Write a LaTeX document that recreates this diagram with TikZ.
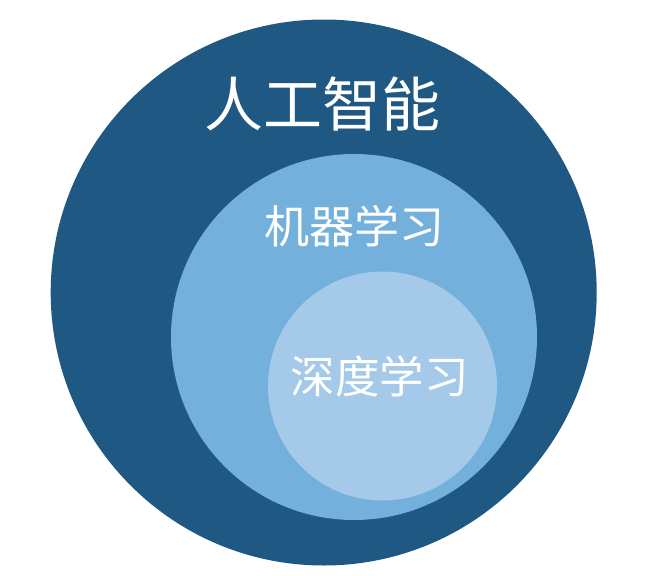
\documentclass[tikz,border=0pt]{standalone}
\usepackage{fontspec}
\newfontfamily\cjk{Noto Sans CJK SC}
\definecolor{aiblue}{RGB}{31,88,130}
\definecolor{mlblue}{RGB}{116,176,220}
\definecolor{dlblue}{RGB}{164,201,233}
\begin{document}
\begin{tikzpicture}[x=1pt,y=-1pt,
  lbl/.style={text=white,inner sep=0pt,font=\cjk}]
\useasboundingbox (0,0) rectangle (649,576);
\fill[aiblue] (323.7,292.5) circle[radius=273];
\fill[mlblue] (354,337) circle[radius=183];
\fill[dlblue] (382.5,386) circle[radius=114.5];
\node[lbl,font=\cjk\fontsize{59}{59}\selectfont] (ai) at (322.5,104) {人工智能};
\node[lbl,font=\cjk\fontsize{45}{45}\selectfont] (ml) at (354.5,226.5) {机器学习};
\node[lbl,font=\cjk\fontsize{44.5}{44.5}\selectfont] (dl) at (379.5,376.5) {深度学习};
\end{tikzpicture}
\end{document}
